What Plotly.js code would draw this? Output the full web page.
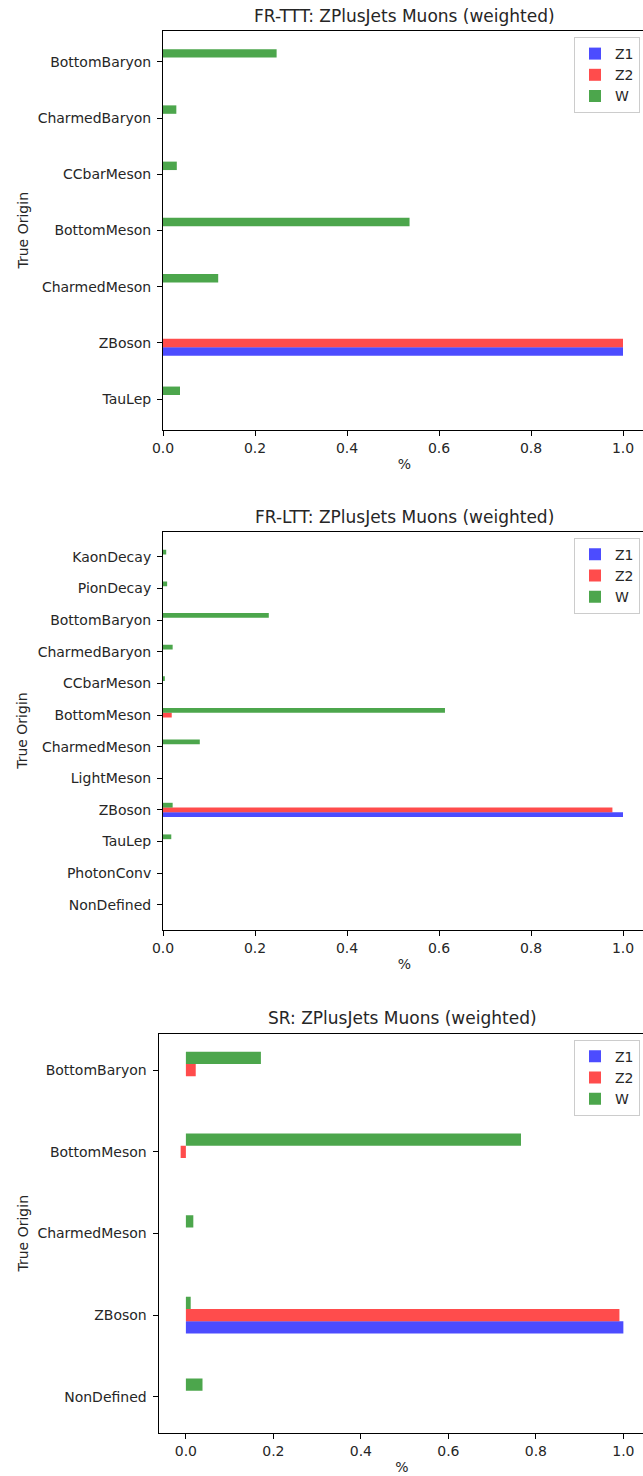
<!DOCTYPE html>
<html>
<head>
<meta charset="utf-8">
<script src="https://cdn.plot.ly/plotly-3.0.1.min.js"></script>
<style>
  html, body { margin: 0; padding: 0; overflow: hidden; background: #fff; }
  #chart { width: 660px; height: 1476px; }
</style>
</head>
<body>
<div id="chart"></div>
<script>
// ---- Data (categories listed bottom -> top) ----
const seriesNames = ["Z1", "Z2", "W"];
const seriesColors = ["rgba(0,0,255,0.7)", "rgba(255,0,0,0.7)", "rgba(0,128,0,0.7)"];

const tttTitle = "FR-TTT: ZPlusJets Muons (weighted)";
const tttCats = ["TauLep", "ZBoson", "CharmedMeson", "BottomMeson", "CCbarMeson", "CharmedBaryon", "BottomBaryon"];
const tttZ1 = [0, 1.0, 0, 0, 0, 0, 0];
const tttZ2 = [0, 1.0, 0, 0, 0, 0, 0];
const tttW  = [0.037, 0, 0.120, 0.536, 0.030, 0.029, 0.247];

const lttTitle = "FR-LTT: ZPlusJets Muons (weighted)";
const lttCats = ["NonDefined", "PhotonConv", "TauLep", "ZBoson", "LightMeson", "CharmedMeson", "BottomMeson", "CCbarMeson", "CharmedBaryon", "BottomBaryon", "PionDecay", "KaonDecay"];
const lttZ1 = [0, 0, 0, 1.0, 0, 0, 0, 0, 0, 0, 0, 0];
const lttZ2 = [0, 0, 0, 0.977, 0, 0, 0.019, 0, 0, 0, 0, 0];
const lttW  = [0, 0, 0.018, 0.021, 0, 0.080, 0.613, 0.004, 0.021, 0.230, 0.009, 0.007];

const srTitle = "SR: ZPlusJets Muons (weighted)";
const srCats = ["NonDefined", "ZBoson", "CharmedMeson", "BottomMeson", "BottomBaryon"];
const srZ1 = [0, 1.0, 0, 0, 0];
const srZ2 = [0, 0.991, 0, -0.012, 0.0225];
const srW  = [0.038, 0.011, 0.017, 0.766, 0.1715];

const xTickVals = [0, 0.2, 0.4, 0.6, 0.8, 1.0];
const xTickText = ["0.0", "0.2", "0.4", "0.6", "0.8", "1.0"];
const yAxisTitle = "True Origin";
const xAxisTitle = "%";

// ---- Layout geometry (pixels) ----
const W = 660, H = 1476;
const FONT = "DejaVu Sans, sans-serif";
const TXT = "#262626";
const panels = [
  {title: tttTitle, cats: tttCats, vals: [tttZ1, tttZ2, tttW], left: 163, right: 646, top: 31,    bottom: 430,    xr: [0, 1.05],          legend: "legend",  titleY: 15.7},
  {title: lttTitle, cats: lttCats, vals: [lttZ1, lttZ2, lttW], left: 163, right: 646, top: 531.7, bottom: 930,    xr: [0, 1.05],          legend: "legend2", titleY: 517.3},
  {title: srTitle,  cats: srCats,  vals: [srZ1, srZ2, srW],    left: 158.5, right: 645.5, top: 1033.7, bottom: 1433.3, xr: [-0.0626, 1.0506], legend: "legend3", titleY: 1018.3}
];

const data = [];
const layout = {
  width: W, height: H,
  margin: {l: 0, r: 0, t: 0, b: 0},
  paper_bgcolor: "#fff", plot_bgcolor: "#fff",
  barmode: "group", bargap: 0.55, bargroupgap: 0,
  font: {family: FONT, size: 14, color: TXT},
  annotations: [],
  showlegend: true
};

panels.forEach((p, i) => {
  const sfx = i === 0 ? "" : String(i + 1);
  const n = p.cats.length;
  const span = (n - 1) + 0.45;
  const yr = [-0.225 - 0.05 * span, (n - 1) + 0.225 + 0.05 * span];
  p.vals.forEach((v, k) => {
    data.push({
      type: "bar", orientation: "h",
      name: seriesNames[k], x: v, y: p.cats,
      xaxis: "x" + sfx, yaxis: "y" + sfx,
      marker: {color: seriesColors[k], line: {width: 0}},
      legend: p.legend, showlegend: true,
      hoverinfo: "x+y+name"
    });
  });
  const yd = [1 - p.bottom / H, 1 - p.top / H];
  const xd = [p.left / W, p.right / W];
  layout["xaxis" + sfx] = {
    domain: xd, anchor: "y" + sfx, range: p.xr,
    tickvals: xTickVals, ticktext: xTickText,
    ticks: "outside", ticklen: 5, tickwidth: 1, tickcolor: "#000",
    showline: true, mirror: true, linecolor: "#000", linewidth: 1,
    showgrid: false, zeroline: false,
    tickfont: {family: FONT, size: 14, color: TXT},
    title: {text: xAxisTitle, font: {family: FONT, size: 14, color: TXT}, standoff: 4},
    automargin: false, fixedrange: true
  };
  layout["yaxis" + sfx] = {
    domain: yd, anchor: "x" + sfx, type: "category",
    categoryorder: "array", categoryarray: p.cats, range: yr,
    ticks: "outside", ticklen: 5, tickwidth: 1, tickcolor: "#000",
    ticklabelstandoff: 3,
    showline: true, mirror: true, linecolor: "#000", linewidth: 1,
    showgrid: false, zeroline: false,
    tickfont: {family: FONT, size: 14, color: TXT},
    automargin: false, fixedrange: true
  };
  layout[p.legend] = {
    x: 640 / W, xanchor: "right",
    y: 1 - (p.top + 6) / H, yanchor: "top",
    bgcolor: "rgba(255,255,255,0.8)", bordercolor: "#ccc", borderwidth: 1,
    font: {family: FONT, size: 14, color: TXT},
    traceorder: "normal"
  };
  layout.annotations.push({
    text: p.title, xref: "paper", yref: "paper",
    x: (p.left + p.right) / 2 / W, y: 1 - p.titleY / H,
    xanchor: "center", yanchor: "middle", showarrow: false,
    font: {family: FONT, size: 17, color: TXT}
  });
  layout.annotations.push({
    text: yAxisTitle, xref: "paper", yref: "paper",
    x: 22 / W, y: 1 - ((p.top + p.bottom) / 2) / H,
    xanchor: "center", yanchor: "middle", textangle: -90, showarrow: false,
    font: {family: FONT, size: 14, color: TXT}
  });
});

Plotly.newPlot("chart", data, layout, {displayModeBar: false, staticPlot: true});
</script>
</body>
</html>
